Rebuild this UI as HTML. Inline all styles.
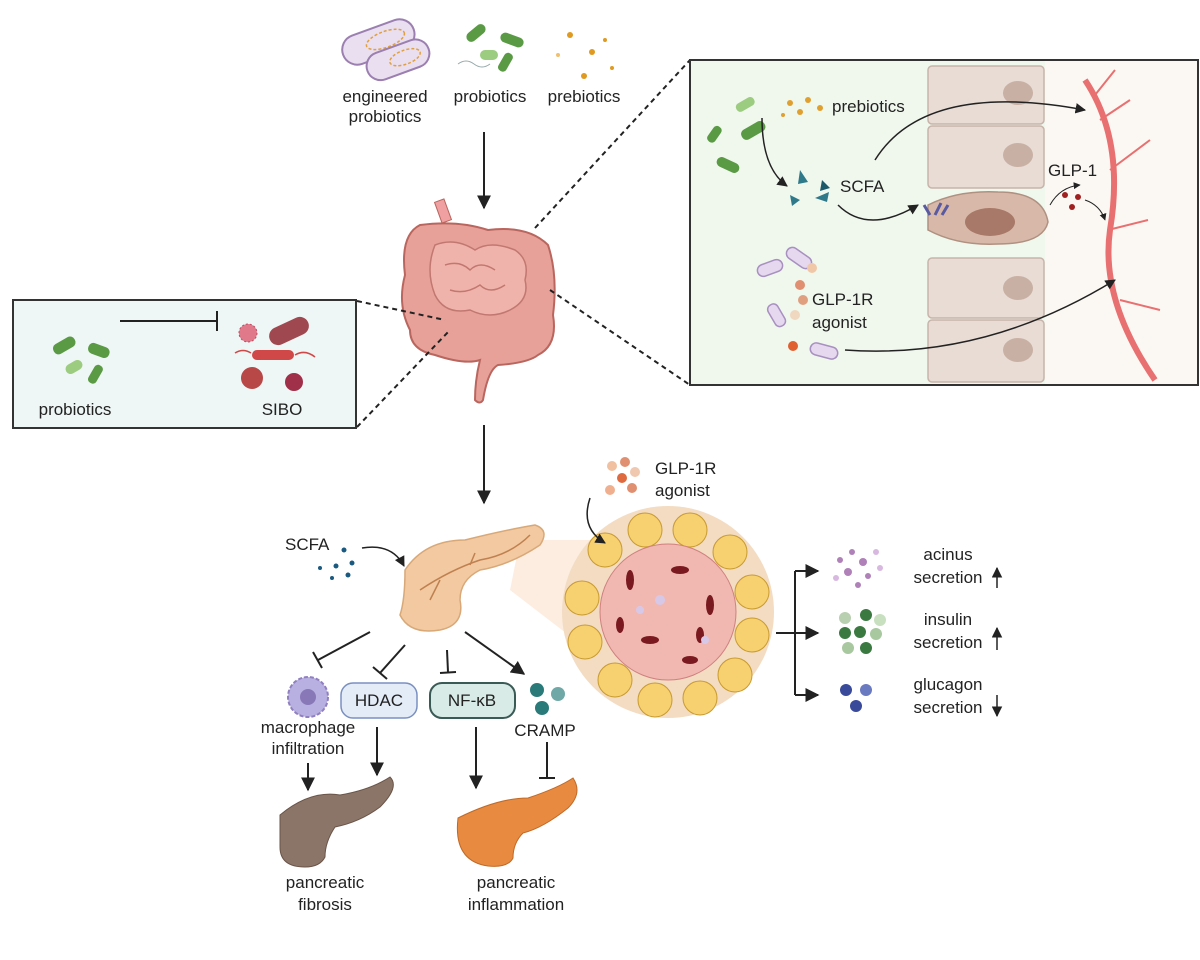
<!DOCTYPE html>
<html><head><meta charset="utf-8"><style>
html,body{margin:0;padding:0;background:#fff;}
svg{display:block;font-family:"Liberation Sans",Arial,sans-serif;}
text{font-size:17px;fill:#222;}
</style></head><body>
<svg width="1200" height="960" viewBox="0 0 1200 960" xmlns="http://www.w3.org/2000/svg">
<defs>
<marker id="ah" viewBox="0 0 10 10" refX="9" refY="5" markerWidth="7" markerHeight="7" orient="auto"><path d="M0,0L10,5L0,10z" fill="#222"/></marker>
</defs>

<!-- top icons -->
<g transform="rotate(-20 375 40)">
<rect x="340" y="28" width="75" height="30" rx="15" fill="#eadff0" stroke="#9b7fb0" stroke-width="2"/>
<ellipse cx="385" cy="43" rx="20" ry="8" fill="none" stroke="#e0a040" stroke-width="1.5" stroke-dasharray="3 2"/>
</g>
<g transform="rotate(-20 400 58)">
<rect x="365" y="45" width="65" height="28" rx="14" fill="#eadff0" stroke="#9b7fb0" stroke-width="2"/>
<ellipse cx="405" cy="59" rx="16" ry="7" fill="none" stroke="#e0a040" stroke-width="1.5" stroke-dasharray="3 2"/>
</g>
<g fill="#5a9a45">
<rect x="465" y="28" width="22" height="10" rx="5" transform="rotate(-40 476 33)"/>
<rect x="500" y="35" width="24" height="10" rx="5" transform="rotate(20 512 40)"/>
<rect x="480" y="50" width="18" height="10" rx="5" fill="#9ccc80"/>
<rect x="495" y="58" width="20" height="9" rx="4" transform="rotate(-60 505 62)"/>
</g>
<path d="M458,64 q8,-6 16,0 t16,0" fill="none" stroke="#9aa" stroke-width="1"/>
<g fill="#e09a20"><circle cx="570" cy="35" r="3"/><circle cx="592" cy="52" r="3"/><circle cx="584" cy="76" r="3"/><circle cx="605" cy="40" r="2"/><circle cx="558" cy="55" r="2" fill="#f0c070"/><circle cx="612" cy="68" r="2"/></g>
<text x="385" y="102" text-anchor="middle">engineered</text>
<text x="385" y="122" text-anchor="middle">probiotics</text>
<text x="490" y="102" text-anchor="middle">probiotics</text>
<text x="584" y="102" text-anchor="middle">prebiotics</text>
<line x1="484" y1="132" x2="484" y2="208" stroke="#222" stroke-width="2" marker-end="url(#ah)"/>

<!-- intestine -->
<path d="M420,225 q-20,10 -15,50 q-8,30 5,55 q0,20 25,25 q30,10 45,5 q-5,20 -5,40 q5,5 8,0 q5,-30 15,-35 q30,-2 40,-10 q20,-10 15,-40 q5,-40 -5,-70 q-20,-20 -60,-15 q-30,-10 -68,-5z" fill="#e7a199" stroke="#b9665e" stroke-width="2"/>
<path d="M435,245 q20,-8 40,5 q15,-10 40,0 q15,10 10,30 q5,20 -15,30 q-20,10 -40,0 q-25,5 -35,-15 q-10,-25 0,-50z" fill="#f0b3ab" stroke="#c17870" stroke-width="1.5"/>
<path d="M445,265 q15,-5 25,5 q10,-10 25,0 M450,290 q15,5 30,-5 q10,10 25,0" fill="none" stroke="#c17870" stroke-width="1.5"/>
<rect x="438" y="200" width="10" height="22" fill="#f0a0a0" stroke="#b9665e" transform="rotate(-20 443 211)"/>

<!-- left box -->
<rect x="13" y="300" width="343" height="128" fill="#eef6f6" stroke="#333" stroke-width="2"/>
<g fill="#5a9a45">
<rect x="52" y="340" width="24" height="11" rx="5" transform="rotate(-30 64 345)"/>
<rect x="88" y="345" width="22" height="11" rx="5" transform="rotate(20 99 350)"/>
<rect x="65" y="362" width="18" height="10" rx="5" fill="#9ccc80" transform="rotate(-30 74 367)"/>
<rect x="85" y="370" width="20" height="9" rx="4" transform="rotate(-60 95 374)"/>
</g>
<line x1="120" y1="321" x2="217" y2="321" stroke="#222" stroke-width="2"/>
<line x1="217" y1="311" x2="217" y2="331" stroke="#222" stroke-width="2"/>
<circle cx="248" cy="333" r="9" fill="#e07a8a" stroke="#c04a60" stroke-dasharray="2 2"/>
<rect x="268" y="322" width="42" height="18" rx="9" fill="#a04850" transform="rotate(-25 289 331)"/>
<rect x="252" y="350" width="42" height="10" rx="5" fill="#d04848"/>
<path d="M235,353 q8,-5 16,0 M295,355 q10,-6 20,2" stroke="#d04848" fill="none" stroke-width="1.5"/>
<circle cx="252" cy="378" r="11" fill="#b84848"/><circle cx="294" cy="382" r="9" fill="#a0304a"/>
<text x="75" y="415" text-anchor="middle">probiotics</text>
<text x="282" y="415" text-anchor="middle">SIBO</text>

<!-- dashed links -->
<g stroke="#222" stroke-width="2" stroke-dasharray="5 4" fill="none">
<line x1="357" y1="301" x2="445" y2="320"/>
<line x1="357" y1="427" x2="450" y2="330"/>
<line x1="535" y1="228" x2="690" y2="60"/>
<line x1="550" y1="290" x2="690" y2="385"/>
<line x1="692" y1="226" x2="925" y2="226"/>
</g>

<!-- right box -->
<rect x="690" y="60" width="508" height="325" fill="#f0f8ee" stroke="#333" stroke-width="2"/>
<rect x="1045" y="61" width="152" height="323" fill="#fbf8f3"/>
<g fill="#e8dcd4" stroke="#c8b4aa" stroke-width="1.5">
<rect x="928" y="66" width="116" height="58" rx="4"/>
<rect x="928" y="126" width="116" height="62" rx="4"/>
<rect x="928" y="258" width="116" height="60" rx="4"/>
<rect x="928" y="320" width="116" height="62" rx="4"/>
</g>
<g fill="#c9b0a4"><ellipse cx="1018" cy="93" rx="15" ry="12"/><ellipse cx="1018" cy="155" rx="15" ry="12"/><ellipse cx="1018" cy="288" rx="15" ry="12"/><ellipse cx="1018" cy="350" rx="15" ry="12"/></g>
<path d="M928,205 q30,-15 70,-13 q45,0 50,30 q-5,22 -50,22 q-40,2 -70,-14z" fill="#d8b8a8" stroke="#b09080" stroke-width="1.5"/>
<ellipse cx="990" cy="222" rx="25" ry="14" fill="#a87868"/>
<path d="M1085,80 q40,60 25,150 q-10,70 45,150" fill="none" stroke="#e87070" stroke-width="6"/>
<path d="M1100,120 l30,-20 M1110,170 l40,-30 M1108,230 l40,-10 M1120,300 l40,10 M1095,95 l20,-25" stroke="#e87070" stroke-width="2" fill="none"/>
<g fill="#5a9a45">
<rect x="740" y="125" width="26" height="11" rx="5" transform="rotate(-30 753 130)"/>
<rect x="735" y="100" width="20" height="9" rx="4" fill="#9ccc80" transform="rotate(-30 745 104)"/>
<rect x="716" y="160" width="24" height="10" rx="5" transform="rotate(25 728 165)"/>
<rect x="705" y="130" width="18" height="9" rx="4" transform="rotate(-55 714 134)"/>
</g>
<g fill="#e0a030"><circle cx="790" cy="103" r="3"/><circle cx="808" cy="100" r="3"/><circle cx="800" cy="112" r="3"/><circle cx="820" cy="108" r="3"/><circle cx="783" cy="115" r="2"/></g>
<text x="832" y="112">prebiotics</text>
<g fill="#2f7a8a"><path d="M800,170l8,12l-10,2z"/><path d="M815,198l14,-6l-2,10z"/><path d="M790,195l10,5l-8,6z"/><path d="M822,180l8,8l-10,3z" fill="#1a5a6a"/></g>
<text x="840" y="192">SCFA</text>
<path d="M762,118 q0,50 25,68" fill="none" stroke="#222" stroke-width="1.5" marker-end="url(#ah)"/>
<path d="M875,160 q50,-80 210,-50" fill="none" stroke="#222" stroke-width="1.5" marker-end="url(#ah)"/>
<path d="M838,205 q30,30 80,0" fill="none" stroke="#222" stroke-width="1.5" marker-end="url(#ah)"/>
<path d="M930,215 l-6,-10 M935,215 l6,-12 M942,215 l6,-10" stroke="#5a5aa0" stroke-width="3"/>
<text x="1048" y="176">GLP-1</text>
<g fill="#a02020"><circle cx="1065" cy="195" r="3"/><circle cx="1072" cy="207" r="3"/><circle cx="1078" cy="197" r="3"/></g>
<path d="M1050,205 q10,-18 30,-20" fill="none" stroke="#222" stroke-width="1" marker-end="url(#ah)"/>
<path d="M1085,200 q15,5 20,20" fill="none" stroke="#222" stroke-width="1" marker-end="url(#ah)"/>
<g fill="#e6d8ee" stroke="#a890c0" stroke-width="1.5">
<rect x="757" y="262" width="26" height="12" rx="6" transform="rotate(-20 770 268)"/>
<rect x="785" y="252" width="28" height="12" rx="6" transform="rotate(35 799 258)"/>
<rect x="765" y="310" width="24" height="11" rx="5" transform="rotate(60 777 315)"/>
<rect x="810" y="345" width="28" height="12" rx="6" transform="rotate(15 824 351)"/>
</g>
<g><circle cx="812" cy="268" r="5" fill="#f0c8a8"/><circle cx="800" cy="285" r="5" fill="#e09070"/><circle cx="803" cy="300" r="5" fill="#e0a080"/><circle cx="795" cy="315" r="5" fill="#f0d8c0"/><circle cx="793" cy="346" r="5" fill="#e06030"/></g>
<text x="812" y="305">GLP-1R</text>
<text x="812" y="328">agonist</text>
<path d="M845,350 q140,10 270,-70" fill="none" stroke="#222" stroke-width="1.5" marker-end="url(#ah)"/>

<line x1="484" y1="425" x2="484" y2="503" stroke="#222" stroke-width="2" marker-end="url(#ah)"/>

<!-- pancreas and islet -->
<path d="M520,540 L630,540 L640,690 L510,590z" fill="#fde8d8" opacity="0.8"/>
<circle cx="668" cy="612" r="106" fill="#f3dcc2"/>
<g fill="#f7d070" stroke="#c89a30" stroke-width="1">
<circle cx="605" cy="550" r="17"/><circle cx="645" cy="530" r="17"/><circle cx="690" cy="530" r="17"/><circle cx="730" cy="552" r="17"/><circle cx="752" cy="592" r="17"/><circle cx="752" cy="635" r="17"/><circle cx="735" cy="675" r="17"/><circle cx="700" cy="698" r="17"/><circle cx="655" cy="700" r="17"/><circle cx="615" cy="680" r="17"/><circle cx="585" cy="642" r="17"/><circle cx="582" cy="598" r="17"/>
</g>
<circle cx="668" cy="612" r="68" fill="#f0b8b0" stroke="#d08080" stroke-width="1"/>
<g fill="#7a1a20"><ellipse cx="630" cy="580" rx="4" ry="10"/><ellipse cx="680" cy="570" rx="9" ry="4"/><ellipse cx="710" cy="605" rx="4" ry="10"/><ellipse cx="650" cy="640" rx="9" ry="4"/><ellipse cx="690" cy="660" rx="8" ry="4"/><ellipse cx="620" cy="625" rx="4" ry="8"/><ellipse cx="700" cy="635" rx="4" ry="8"/></g>
<g fill="#d8c8e8"><circle cx="660" cy="600" r="5"/><circle cx="640" cy="610" r="4"/><circle cx="705" cy="640" r="4"/></g>
<path d="M405,570 q20,-30 60,-30 q40,-10 70,-15 q15,5 5,20 q-30,20 -60,25 q-20,10 -20,30 q5,25 -20,30 q-30,5 -40,-15 q5,-15 5,-45z" fill="#f2c9a0" stroke="#d8a878" stroke-width="1.5"/>
<path d="M420,590 q30,-20 60,-30 q30,-5 50,-25 M440,580 l-10,20 M470,565 l5,-12" stroke="#c08050" fill="none" stroke-width="1.5"/>
<text x="285" y="550">SCFA</text>
<g fill="#1a5a80"><circle cx="344" cy="550" r="2.5"/><circle cx="336" cy="566" r="2.5"/><circle cx="352" cy="563" r="2.5"/><circle cx="320" cy="568" r="2"/><circle cx="348" cy="575" r="2.5"/><circle cx="332" cy="578" r="2"/></g>
<path d="M362,548 q30,-5 42,18" fill="none" stroke="#222" stroke-width="1.5" marker-end="url(#ah)"/>
<g><circle cx="612" cy="466" r="5" fill="#f0c0a0"/><circle cx="625" cy="462" r="5" fill="#e09070"/><circle cx="622" cy="478" r="5" fill="#e06a40"/><circle cx="635" cy="472" r="5" fill="#f0c8b0"/><circle cx="610" cy="490" r="5" fill="#f0b090"/><circle cx="632" cy="488" r="5" fill="#e09070"/></g>
<text x="655" y="474">GLP-1R</text>
<text x="655" y="496">agonist</text>
<path d="M590,498 q-10,30 15,45" fill="none" stroke="#222" stroke-width="1.5" marker-end="url(#ah)"/>

<!-- right branches -->
<g stroke="#222" stroke-width="2" fill="none">
<line x1="776" y1="633" x2="818" y2="633" marker-end="url(#ah)"/>
<line x1="795" y1="571" x2="795" y2="695"/>
<line x1="795" y1="571" x2="818" y2="571" marker-end="url(#ah)"/>
<line x1="795" y1="695" x2="818" y2="695" marker-end="url(#ah)"/>
<line x1="997" y1="588" x2="997" y2="568" marker-end="url(#ah)" stroke-width="1.5"/>
<line x1="997" y1="650" x2="997" y2="628" marker-end="url(#ah)" stroke-width="1.5"/>
<line x1="997" y1="695" x2="997" y2="716" marker-end="url(#ah)" stroke-width="1.5"/>
</g>
<g fill="#b080b8"><circle cx="840" cy="560" r="3"/><circle cx="852" cy="552" r="3"/><circle cx="863" cy="562" r="4"/><circle cx="876" cy="552" r="3" fill="#d8b8e0"/><circle cx="848" cy="572" r="4"/><circle cx="868" cy="576" r="3"/><circle cx="880" cy="568" r="3" fill="#d8b8e0"/><circle cx="836" cy="578" r="3" fill="#d8b8e0"/><circle cx="858" cy="585" r="3"/></g>
<g><circle cx="845" cy="618" r="6" fill="#b8d0b0"/><circle cx="866" cy="615" r="6" fill="#3a7a40"/><circle cx="880" cy="620" r="6" fill="#c8e0c0"/><circle cx="845" cy="633" r="6" fill="#3a7a40"/><circle cx="860" cy="632" r="6" fill="#3a7a40"/><circle cx="876" cy="634" r="6" fill="#a8c8a0"/><circle cx="848" cy="648" r="6" fill="#a8c8a0"/><circle cx="866" cy="648" r="6" fill="#3a7a40"/></g>
<g><circle cx="846" cy="690" r="6" fill="#3a4a9a"/><circle cx="866" cy="690" r="6" fill="#6a7ac0"/><circle cx="856" cy="706" r="6" fill="#3a4a9a"/></g>
<text x="948" y="560" text-anchor="middle">acinus</text>
<text x="948" y="583" text-anchor="middle">secretion</text>
<text x="948" y="625" text-anchor="middle">insulin</text>
<text x="948" y="648" text-anchor="middle">secretion</text>
<text x="948" y="690" text-anchor="middle">glucagon</text>
<text x="948" y="713" text-anchor="middle">secretion</text>

<!-- bottom -->
<g stroke="#222" stroke-width="2" fill="none">
<line x1="370" y1="632" x2="318" y2="660"/><line x1="313" y1="652" x2="322" y2="668"/>
<line x1="405" y1="645" x2="380" y2="673"/><line x1="373" y1="667" x2="387" y2="679"/>
<line x1="447" y1="650" x2="448" y2="672"/><line x1="440" y1="673" x2="456" y2="672"/>
<line x1="465" y1="632" x2="524" y2="674" marker-end="url(#ah)"/>
<line x1="377" y1="727" x2="377" y2="775" marker-end="url(#ah)"/>
<line x1="308" y1="763" x2="308" y2="790" marker-end="url(#ah)"/>
<line x1="476" y1="727" x2="476" y2="788" marker-end="url(#ah)"/>
<line x1="547" y1="742" x2="547" y2="778"/><line x1="539" y1="778" x2="555" y2="778"/>
</g>
<circle cx="308" cy="697" r="20" fill="#b8b0e0" stroke="#9080c0" stroke-width="2" stroke-dasharray="4 2"/>
<circle cx="308" cy="697" r="8" fill="#8878b8"/>
<text x="308" y="733" text-anchor="middle">macrophage</text>
<text x="308" y="754" text-anchor="middle">infiltration</text>
<rect x="341" y="683" width="76" height="35" rx="12" fill="#e4ecf8" stroke="#7a90c0" stroke-width="1.5"/>
<text x="379" y="706" text-anchor="middle">HDAC</text>
<rect x="430" y="683" width="85" height="35" rx="12" fill="#d8ebe6" stroke="#3a5a55" stroke-width="2"/>
<text x="472" y="706" text-anchor="middle">NF-κB</text>
<circle cx="537" cy="690" r="7" fill="#2a7a7a"/><circle cx="558" cy="694" r="7" fill="#70a8a8"/><circle cx="542" cy="708" r="7" fill="#2a7a7a"/>
<text x="545" y="736" text-anchor="middle">CRAMP</text>
<path d="M280,815 q30,-25 60,-20 q30,-5 50,-18 q10,10 -10,30 q-20,15 -45,20 q-10,15 -10,30 q-5,10 -20,10 q-25,0 -25,-20z" fill="#8b7468" stroke="#6a5448" stroke-width="1"/>
<text x="325" y="888" text-anchor="middle">pancreatic</text>
<text x="325" y="910" text-anchor="middle">fibrosis</text>
<path d="M458,818 q40,-20 70,-20 q30,-10 45,-20 q10,15 -5,30 q-25,20 -45,25 q-10,10 -10,25 q-5,10 -25,8 q-35,-5 -30,-48z" fill="#e88a40" stroke="#c06a28" stroke-width="1"/>
<text x="516" y="888" text-anchor="middle">pancreatic</text>
<text x="516" y="910" text-anchor="middle">inflammation</text>
</svg>
</body></html>
